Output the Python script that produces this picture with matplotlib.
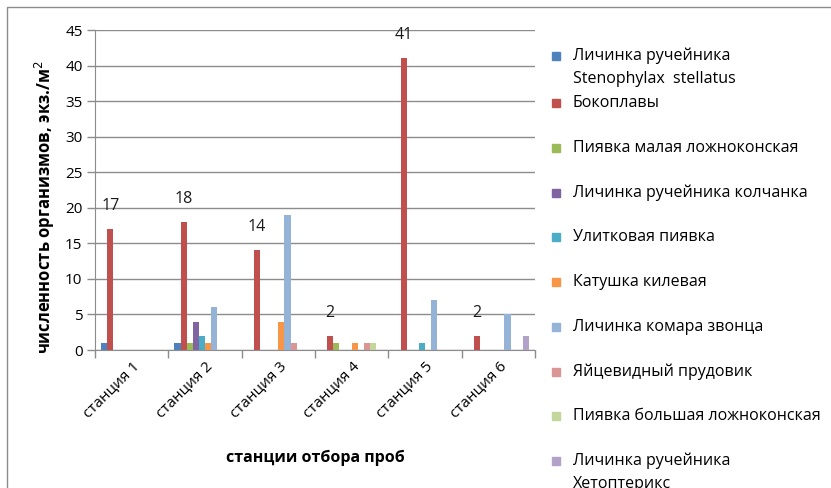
import matplotlib
matplotlib.use("Agg")
import matplotlib.pyplot as plt
import numpy as np
from matplotlib.patches import Rectangle

plt.rcParams['font.family'] = ['Open Sans', 'DejaVu Sans']

stations = ["станция 1", "станция 2", "станция 3", "станция 4", "станция 5", "станция 6"]
series_names = [
    "Личинка ручейника\nStenophylax  stellatus",
    "Бокоплавы",
    "Пиявка малая ложноконская",
    "Личинка ручейника колчанка",
    "Улитковая пиявка",
    "Катушка килевая",
    "Личинка комара звонца",
    "Яйцевидный прудовик",
    "Пиявка большая ложноконская",
    "Личинка ручейника\nХетоптерикс",
]
colors = ["#4F81BD", "#C0504D", "#9BBB59", "#8064A2", "#4BACC6",
          "#F79646", "#95B3D7", "#D99694", "#C3D69B", "#B3A2C7"]

# values per series, one entry per station
stenophylax = [1, 1, 0, 0, 0, 0]
bokoplavy = [17, 18, 14, 2, 41, 2]
piyavka_malaya = [0, 1, 0, 1, 0, 0]
kolchanka = [0, 4, 0, 0, 0, 0]
ulitkovaya = [0, 2, 0, 0, 1, 0]
katushka = [0, 1, 4, 1, 0, 0]
komar = [0, 6, 19, 0, 7, 5]
prudovik = [0, 0, 1, 1, 0, 0]
piyavka_bolshaya = [0, 0, 0, 1, 0, 0]
khetopteriks = [0, 0, 0, 0, 0, 2]
values = [stenophylax, bokoplavy, piyavka_malaya, kolchanka, ulitkovaya,
          katushka, komar, prudovik, piyavka_bolshaya, khetopteriks]

W, H = 831, 488
fig = plt.figure(figsize=(W / 100, H / 100), dpi=100)
ax = fig.add_axes([95 / W, 1 - 350 / H, 440 / W, 320 / H])

x = np.arange(len(stations))
n = len(values)
w = 0.0835
for i, (vals, c) in enumerate(zip(values, colors)):
    bars = ax.bar(x + (i - (n - 1) / 2) * w, vals, width=w, color=c, zorder=3)
    if i == 1:
        # data labels only on the Бокоплавы series
        for b, v in zip(bars, vals):
            ax.annotate(str(v), (b.get_x() + b.get_width() / 2, v),
                        xytext=(0, 23), textcoords='offset pixels',
                        ha='center', va='center', fontsize=11.5, color='#1a1a1a')

ax.set_xlim(-0.5, len(stations) - 0.5)
ax.set_ylim(0, 45)
ax.set_yticks(np.arange(0, 46, 5))
ax.yaxis.grid(True, color='#8c8c8c', linewidth=1.0, zorder=0)
ax.set_xticks(np.arange(-0.5, len(stations), 1.0))
ax.set_xticklabels([])
ax.set_xticks(x, minor=True)
ax.set_xticklabels(stations, minor=True, rotation=45, ha='right',
                   rotation_mode='anchor', fontsize=11)
ax.tick_params(axis='x', which='minor', length=0, pad=6)
ax.tick_params(axis='x', which='major', length=6, color='#8c8c8c', width=1)
ax.tick_params(axis='y', length=6, color='#8c8c8c', width=1, labelsize=11, pad=3)
for s in ['top', 'right']:
    ax.spines[s].set_visible(False)
for s in ['left', 'bottom']:
    ax.spines[s].set_color('#8c8c8c')

fig.text(45 / W, 1 - 207 / H, "численность организмов, экз./м$^2$", rotation=90,
         ha='center', va='center', fontsize=12, fontweight='bold')
fig.text(315 / W, 1 - 458 / H, "станции отбора проб", ha='center', va='center',
         fontsize=11.5, fontweight='bold')

# legend drawn by hand to keep Excel's row layout
leg_y = [56] + [103 + k * 44.75 for k in range(n - 1)]
for name, c, yy in zip(series_names, colors, leg_y):
    fig.patches.append(Rectangle((552 / W, 1 - (yy + 4) / H), 8 / W, 8 / H,
                                 transform=fig.transFigure, color=c))
    for j, line in enumerate(name.split("\n")):
        fig.text(573 / W, 1 - (yy + j * 23) / H, line, ha='left', va='center',
                 fontsize=11.5)

# chart frame
fig.patches.append(Rectangle((7 / W, -0.1), 1.2, 1 - 7 / H + 0.1, transform=fig.transFigure,
                             fill=False, edgecolor='#8c8c8c', linewidth=1))

fig.savefig("out.png", dpi=100)
